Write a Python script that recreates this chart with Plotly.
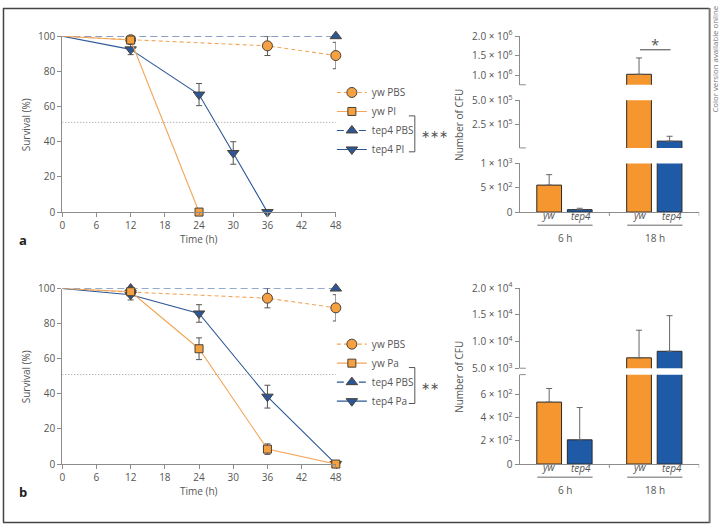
import plotly.graph_objects as go

# ---------------------------------------------------------------- data
HOURS_TICKS = [0, 6, 12, 18, 24, 30, 36, 42, 48]
SURV_TICKS = [0, 20, 40, 60, 80, 100]
HALF_SURVIVAL = 51

# panel a: PI infection
A_YW_PBS_T = [0, 12, 36, 48]
A_YW_PBS_S = [100, 98, 94.5, 89]
A_YW_PBS_E = [None, None, 5.5, 7.5]

A_YW_PI_T = [0, 12, 24]
A_YW_PI_S = [100, 97.8, 0]

A_TEP4_PBS_T = [0, 48]
A_TEP4_PBS_S = [100, 100]

A_TEP4_PI_T = [0, 12, 24, 30, 36]
A_TEP4_PI_S = [100, 92.5, 66.8, 33.6, 0]
A_TEP4_PI_E = [None, 3, 6.3, 6.4, None]

# panel b: Pa infection
B_YW_PBS_T = [0, 12, 36, 48]
B_YW_PBS_S = [100, 98, 94.5, 89]
B_YW_PBS_E = [None, None, 5.5, 7.5]

B_YW_PA_T = [0, 12, 24, 36, 48]
B_YW_PA_S = [100, 98.2, 65.7, 8.5, 0]
B_YW_PA_E = [None, None, 6.2, 3, None]

B_TEP4_PBS_T = [0, 12, 48]
B_TEP4_PBS_S = [100, 100, 100]
B_TEP4_PBS_E = [None, 2, None]

B_TEP4_PA_T = [0, 12, 24, 36, 48]
B_TEP4_PA_S = [100, 96.5, 85.8, 38.4, 0]
B_TEP4_PA_E = [None, 3, 5, 6.5, None]

# CFU bar charts
GROUPS = ["6 h", "18 h"]
A_CFU_YW = [555, 1.02e6]
A_CFU_YW_E = [215, 4.2e5]
A_CFU_TEP4 = [50, 8.0e4]
A_CFU_TEP4_E = [28, 5.0e4]

B_CFU_YW = [537, 6950]
B_CFU_YW_E = [118, 5170]
B_CFU_TEP4 = [210, 8175]
B_CFU_TEP4_E = [280, 6670]

# ---------------------------------------------------------------- style
W, H = 725, 531
FONT = "Open Sans"
ORANGE = "#F5A142"
ORANGE_LINE = "#F2A65A"
ORANGE_BAR = "#F6962F"
BLUE = "#2B5797"
BLUE_BAR = "#1F5AA6"
AXIS = "#8c8c8c"
TEXT = "#555555"
EDGE = "#4a4036"


def fx(px):
    return px / W


def fy(py):
    return 1 - py / H


fig = go.Figure()


def survival(t, s, err, name, color, dash, symbol, size, xa, ya, legend, rank,
             line_color=None):
    line = dict(color=line_color or color, width=1.1, dash=dash)
    # first segment from t=0 (no marker at the starting point)
    fig.add_trace(go.Scatter(
        x=t[:2], y=s[:2], mode="lines", line=line, xaxis=xa, yaxis=ya,
        showlegend=False, hoverinfo="skip",
    ))
    tr = go.Scatter(
        x=t[1:], y=s[1:], name=name, mode="lines+markers",
        xaxis=xa, yaxis=ya, legend=legend, legendrank=rank, line=line,
        marker=dict(symbol=symbol, size=size, color=color,
                    line=dict(color=EDGE, width=1)),
        cliponaxis=False,
    )
    if err is not None:
        tr.error_y = dict(type="data", array=err[1:], visible=True,
                          color="#555", thickness=1, width=3)
    fig.add_trace(tr)


# panel a survival
survival(A_TEP4_PBS_T, A_TEP4_PBS_S, None, "tep4 PBS", BLUE,
         "7px,4px", "triangle-up", 10, "x", "y", "legend", 3)
survival(A_YW_PBS_T, A_YW_PBS_S, A_YW_PBS_E, "yw PBS", ORANGE,
         "4px,3px", "circle", 10, "x", "y", "legend", 1, ORANGE_LINE)
survival(A_TEP4_PI_T, A_TEP4_PI_S, A_TEP4_PI_E, "tep4 PI", BLUE,
         "solid", "triangle-down", 10, "x", "y", "legend", 4)
survival(A_YW_PI_T, A_YW_PI_S, None, "yw PI", ORANGE,
         "solid", "square", 8, "x", "y", "legend", 2, ORANGE_LINE)

# panel b survival
survival(B_TEP4_PBS_T, B_TEP4_PBS_S, B_TEP4_PBS_E, "tep4 PBS", BLUE,
         "7px,4px", "triangle-up", 10, "x2", "y2", "legend2", 3)
survival(B_YW_PBS_T, B_YW_PBS_S, B_YW_PBS_E, "yw PBS", ORANGE,
         "4px,3px", "circle", 10, "x2", "y2", "legend2", 1, ORANGE_LINE)
survival(B_TEP4_PA_T, B_TEP4_PA_S, B_TEP4_PA_E, "tep4 Pa", BLUE,
         "solid", "triangle-down", 10, "x2", "y2", "legend2", 4)
survival(B_YW_PA_T, B_YW_PA_S, B_YW_PA_E, "yw Pa", ORANGE,
         "solid", "square", 8, "x2", "y2", "legend2", 2, ORANGE_LINE)

# 50% reference lines
for xr, yr in [("x", "y"), ("x2", "y2")]:
    fig.add_shape(type="line", xref=xr, yref=yr, x0=0, x1=48,
                  y0=HALF_SURVIVAL, y1=HALF_SURVIVAL,
                  line=dict(color="#999", width=1, dash="1px,2px"))


# bar charts, broken y axes: each segment is its own y axis on a shared x
def bar_pair(yw, yw_e, tep4, tep4_e, xa, ya):
    for vals, errs, color, grp in [(yw, yw_e, ORANGE_BAR, "yw"),
                                   (tep4, tep4_e, BLUE_BAR, "tep4")]:
        fig.add_trace(go.Bar(
            x=GROUPS, y=vals, xaxis=xa, yaxis=ya, offsetgroup=grp,
            showlegend=False,
            marker=dict(color=color, line=dict(color="#2b2b2b", width=1)),
            error_y=dict(type="data", array=errs, arrayminus=[0] * len(errs),
                         symmetric=False, color="#666", thickness=1, width=3),
        ))


for ya in ["y3", "y4", "y5"]:
    bar_pair(A_CFU_YW, A_CFU_YW_E, A_CFU_TEP4, A_CFU_TEP4_E, "x3", ya)
for ya in ["y6", "y7"]:
    bar_pair(B_CFU_YW, B_CFU_YW_E, B_CFU_TEP4, B_CFU_TEP4_E, "x4", ya)

# ---------------------------------------------------------------- axes
tick_font = dict(family=FONT, size=10, color=TEXT)
common = dict(showline=True, linecolor=AXIS, linewidth=1, ticks="outside",
              ticklen=4, tickcolor=AXIS, showgrid=False, zeroline=False,
              tickfont=tick_font)

surv_x = dict(common, range=[0, 48], tickvals=HOURS_TICKS,
              domain=[fx(60), fx(337)])
surv_y = dict(common, range=[0, 100], tickvals=SURV_TICKS)

fig.update_layout(
    xaxis=dict(surv_x, anchor="y"),
    yaxis=dict(surv_y, anchor="x", domain=[fy(210), fy(29)]),
    xaxis2=dict(surv_x, anchor="y2"),
    yaxis2=dict(surv_y, anchor="x2", domain=[fy(469.3), fy(288.7)]),
)


def sci(m, e):
    return f"{m} × 10<sup>{e}</sup>"


bar_x = dict(common, type="category", range=[-0.5, 1.5], ticks="",
             showticklabels=False, domain=[fx(523), fx(705)])

fig.update_layout(
    xaxis3=dict(bar_x, anchor="y3"),
    yaxis3=dict(common, anchor="x3", domain=[fy(210), fy(160)], range=[0, 1000],
                tickvals=[0, 500, 1000], ticktext=["0", sci("5", 2), sci("1", 3)]),
    yaxis4=dict(common, anchor="x3", domain=[fy(144), fy(95)], range=[1e4, 5e5],
                tickvals=[2.5e5, 5e5], ticktext=[sci("2.5", 5), sci("5.0", 5)]),
    yaxis5=dict(common, anchor="x3", domain=[fy(79), fy(29)], range=[7.5e5, 2e6],
                tickvals=[1e6, 1.5e6, 2e6],
                ticktext=[sci("1.0", 6), sci("1.5", 6), sci("2.0", 6)]),
    xaxis4=dict(bar_x, anchor="y6"),
    yaxis6=dict(common, anchor="x4", domain=[fy(469.3), fy(377.3)], range=[0, 775],
                tickvals=[0, 200, 400, 600],
                ticktext=["0", sci("2", 2), sci("4", 2), sci("6", 2)]),
    yaxis7=dict(common, anchor="x4", domain=[fy(370.7), fy(288.3)], range=[5e3, 2e4],
                tickvals=[5e3, 1e4, 1.5e4, 2e4],
                ticktext=[sci("5.0", 3), sci("1.0", 4), sci("1.5", 4), sci("2.0", 4)]),
    barmode="group", bargap=0.32, bargroupgap=0.19,
)

# axis-break marks
for xr, yref, yv in [("x3 domain", "y5 domain", 0), ("x3 domain", "y4 domain", 0),
                     ("x4 domain", "y7 domain", 0), ("x4 domain", "y6 domain", 1)]:
    fig.add_shape(type="line", xref=xr, yref=yref, x0=0, x1=0.035, y0=yv, y1=yv,
                  line=dict(color=AXIS, width=1))

# group-boundary ticks on the bar x axes (between groups and at the end)
for xr, axis_y in [("x3", 210), ("x4", 469.3)]:
    for xb in [0.5, 1.5]:
        fig.add_shape(type="line", xref=xr, yref="paper", x0=xb, x1=xb,
                      y0=fy(axis_y), y1=fy(axis_y + 4),
                      line=dict(color=AXIS, width=1))

# ---------------------------------------------------------------- text
ann = []


def text(px, py, s, size=10, color=TEXT, angle=0, xanchor="center"):
    ann.append(dict(x=fx(px), y=fy(py), xref="paper", yref="paper", text=s,
                    showarrow=False, textangle=angle, xanchor=xanchor,
                    yanchor="middle", font=dict(family=FONT, size=size, color=color)))


for off in [0, 259.3]:
    text(23, 120 + off, "Survival (%)", angle=-90)
    text(198, 238 + off, "Time (h)")
    text(461, 120 + off, "Number of CFU", angle=-90)
    axis_y = 210 + off
    for cx, lx0, lx1, lab in [(552, 541, 597, "6 h"), (644, 632, 688, "18 h")]:
        text(cx + 1, axis_y + 3.5, "<i>yw</i>")
        text(cx + 33, axis_y + 4.5, "<i>tep4</i>")
        fig.add_shape(type="line", xref="paper", yref="paper",
                      x0=fx(lx0), x1=fx(lx1), y0=fy(axis_y + 13.5), y1=fy(axis_y + 13.5),
                      line=dict(color="#666", width=1))
        text((lx0 + lx1) / 2, axis_y + 26.5, lab)

text(20, 239, "<b>a</b>", size=13, color="#222")
text(20, 498, "<b>b</b>", size=13, color="#222")

# significance marks
text(660, 37, "*", size=15)
fig.add_shape(type="line", xref="paper", yref="paper", x0=fx(645), x1=fx(676),
              y0=fy(43), y1=fy(43), line=dict(color="#444", width=1))

for top, stars in [(72, "∗∗∗"), (331, "∗∗")]:
    y0, y1 = top + 39, top + 76
    fig.add_shape(type="path", xref="paper", yref="paper",
                  path=f"M {fx(411)} {fy(y0)} L {fx(417)} {fy(y0)} "
                       f"L {fx(417)} {fy(y1)} L {fx(411)} {fy(y1)}",
                  line=dict(color="#555", width=1))
    text(421, (y0 + y1) / 2, stars, size=11, xanchor="left")

text(720, 53, "Color version available online", size=7.8, color="#777", angle=-90)

# frame
for x0, y0, x1, y1, c, w in [(0, 0.5, 715, 0.5, "#444", 1.5),
                             (0.5, 0, 0.5, 529.5, "#444", 1.5),
                             (0, 529.5, 716, 529.5, "#444", 1.5),
                             (715.5, 0, 715.5, 530, "#777", 2)]:
    fig.add_shape(type="line", xref="paper", yref="paper",
                  x0=fx(x0), y0=fy(y0), x1=fx(x1), y1=fy(y1),
                  line=dict(color=c, width=w))

legend_style = dict(xanchor="left", yanchor="top", itemwidth=30,
                    bgcolor="rgba(0,0,0,0)", tracegroupgap=0,
                    font=dict(family=FONT, size=10, color=TEXT))

fig.update_layout(
    width=W, height=H,
    margin=dict(l=0, r=0, t=0, b=0),
    paper_bgcolor="white", plot_bgcolor="white",
    font=dict(family=FONT, size=10, color=TEXT),
    annotations=ann,
    legend=dict(legend_style, x=fx(333), y=fy(72)),
    legend2=dict(legend_style, x=fx(333), y=fy(331)),
)

fig.write_html("out.html", config={"displayModeBar": False},
               post_script="document.body.style.margin = '0';")
